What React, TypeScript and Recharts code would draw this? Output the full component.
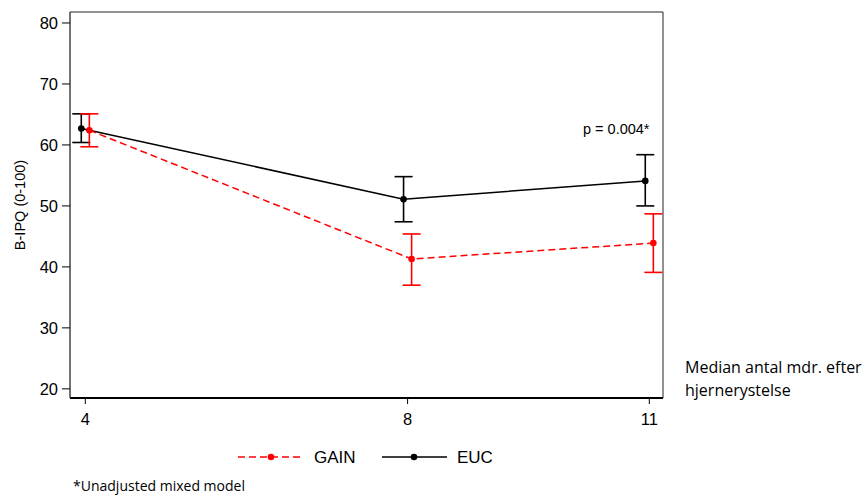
import { LineChart, Line, XAxis, YAxis, ErrorBar, ReferenceArea } from 'recharts'

const months = [4, 8, 11]
const gainMean = [62.4, 41.3, 43.9]
const gainLow = [59.7, 37.0, 39.1]
const gainHigh = [65.1, 45.4, 48.7]
const eucMean = [62.7, 51.1, 54.1]
const eucLow = [60.4, 47.4, 50.0]
const eucHigh = [65.1, 54.8, 58.4]
const yTicks = [20, 30, 40, 50, 60, 70, 80]

// small horizontal jitter so the two groups don't overlap
const GAIN_SHIFT = 0.05
const EUC_SHIFT = -0.05

const X_DOMAIN: [number, number] = [3.81, 11.17]
const Y_DOMAIN: [number, number] = [18.5, 81.8]

const build = (mean: number[], low: number[], high: number[], shift: number) =>
  months.map((m, i) => ({
    x: m + shift,
    y: mean[i],
    err: [+(mean[i] - low[i]).toFixed(2), +(high[i] - mean[i]).toFixed(2)],
  }))

const gainData = build(gainMean, gainLow, gainHigh, GAIN_SHIFT)
const eucData = build(eucMean, eucLow, eucHigh, EUC_SHIFT)

const sans = 'Liberation Sans, Arial, sans-serif'
const tickFont = { fontSize: 16.5, fill: '#000', fontFamily: sans }
const legendFont = { fontSize: 17, fill: '#000', fontFamily: sans }
const noteFont = "'Open Sans', 'Noto Sans', sans-serif"

export default function App() {
  return (
    <div style={{ position: 'absolute', left: 0, top: 0, width: 866, height: 498, background: '#fff' }}>
      <LineChart width={866} height={498} margin={{ top: 12, right: 203, bottom: 70, left: 10 }}>
        <ReferenceArea
          x1={X_DOMAIN[0]}
          x2={X_DOMAIN[1]}
          y1={Y_DOMAIN[0]}
          y2={Y_DOMAIN[1]}
          fill="none"
          stroke="#222"
          strokeWidth={1}
          fillOpacity={0}
        />
        <XAxis
          dataKey="x"
          type="number"
          domain={X_DOMAIN}
          ticks={months}
          allowDataOverflow
          height={30}
          tick={tickFont}
          tickLine={{ stroke: '#000' }}
          axisLine={{ stroke: '#000', strokeWidth: 2 }}
          tickSize={6}
          tickMargin={9}
        />
        <YAxis
          type="number"
          domain={Y_DOMAIN}
          ticks={yTicks}
          allowDataOverflow
          width={60}
          tick={tickFont}
          tickLine={{ stroke: '#000' }}
          axisLine={{ stroke: '#555' }}
          tickSize={8}
          tickMargin={4}
          label={{
            value: 'B-IPQ (0-100)',
            angle: -90,
            position: 'insideLeft',
            offset: 10,
            textAnchor: 'middle',
            style: { fontSize: 14.5, fill: '#000', fontFamily: sans, textAnchor: 'middle' },
          }}
        />
        <Line
          data={eucData}
          dataKey="y"
          stroke="#000"
          strokeWidth={1.5}
          dot={{ r: 3.3, fill: '#000', stroke: 'none' }}
          activeDot={false}
          isAnimationActive={false}
        >
          <ErrorBar dataKey="err" width={9} stroke="#000" strokeWidth={1.6} direction="y" />
        </Line>
        <Line
          data={gainData}
          dataKey="y"
          stroke="#ff0000"
          strokeWidth={1.5}
          strokeDasharray="7 4"
          dot={{ r: 3.3, fill: '#ff0000', stroke: 'none' }}
          activeDot={false}
          isAnimationActive={false}
        >
          <ErrorBar dataKey="err" width={9} stroke="#ff0000" strokeWidth={1.6} direction="y" />
        </Line>
      </LineChart>

      <div style={{ position: 'absolute', left: 583, top: 121, fontSize: 14.5, fontFamily: sans }}>
        p = 0.004*
      </div>

      <div style={{ position: 'absolute', left: 685, top: 356, fontSize: 16, lineHeight: '23px', fontFamily: noteFont }}>
        Median antal mdr. efter
        <br />
        hjernerystelse
      </div>

      <svg style={{ position: 'absolute', left: 0, top: 440 }} width={600} height={32}>
        <line x1={238} x2={302} y1={17} y2={17} stroke="#ff0000" strokeWidth={1.5} strokeDasharray="7 4" />
        <circle cx={271} cy={17} r={3.3} fill="#ff0000" />
        <text x={314} y={23} style={legendFont}>GAIN</text>
        <line x1={382} x2={447} y1={17} y2={17} stroke="#000" strokeWidth={1.5} />
        <circle cx={414} cy={17} r={3.3} fill="#000" />
        <text x={457} y={23} style={legendFont}>EUC</text>
      </svg>

      <div style={{ position: 'absolute', left: 73, top: 476, fontSize: 14, fontFamily: noteFont }}>
        *Unadjusted mixed model
      </div>
    </div>
  )
}
